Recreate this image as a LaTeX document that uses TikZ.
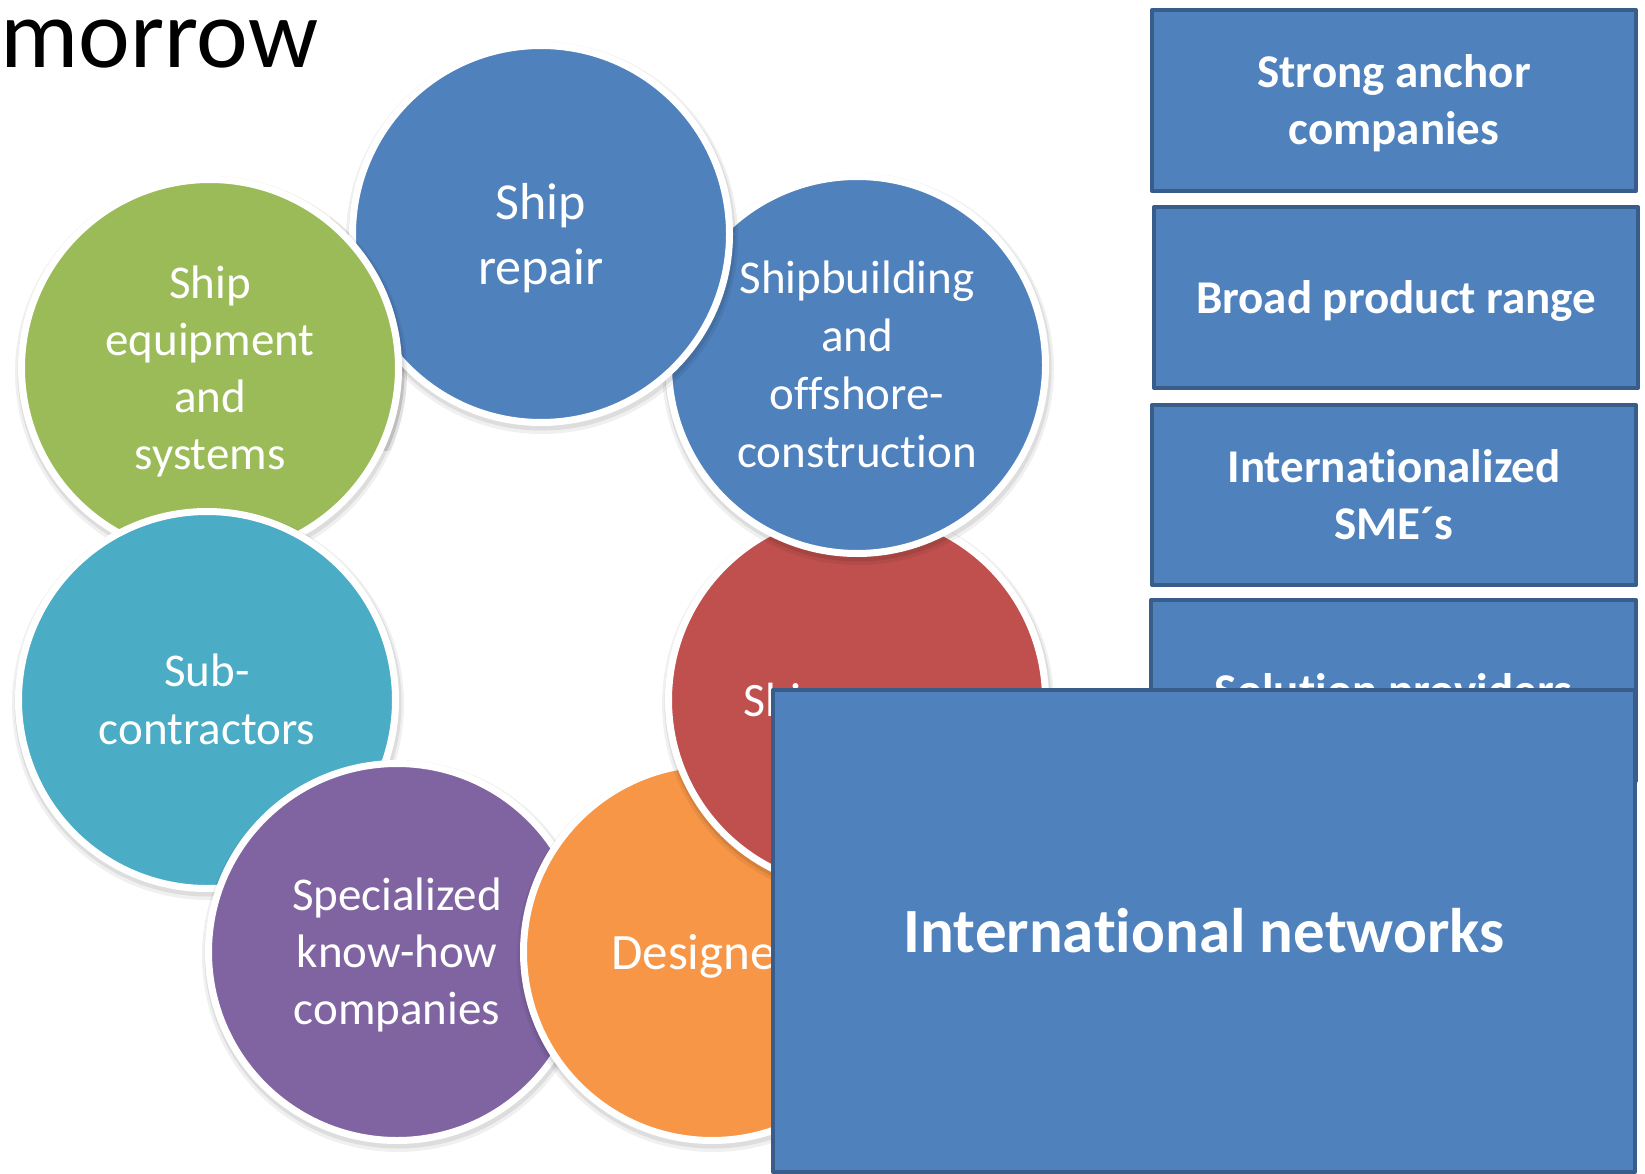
\documentclass[tikz,border=0pt]{standalone}
\usepackage{fontspec}
\setmainfont{Carlito}[RawFeature={-liga;-clig;-dlig}]
\definecolor{cblue}{HTML}{4F81BD}
\definecolor{cborder}{HTML}{385D8A}
\definecolor{cgreen}{HTML}{9BBB59}
\definecolor{cteal}{HTML}{4BACC6}
\definecolor{cpurple}{HTML}{8064A2}
\definecolor{corange}{HTML}{F79646}
\definecolor{cred}{HTML}{C0504D}
\newcommand\firstln{\rule{0pt}{0.95em}}
\newcommand\lastln{\rule[-0.27em]{0pt}{0pt}}
\newcommand\brk{\kern0pt}
\tikzset{
  ringnode/.style={circle, draw=white, line width=7pt, minimum size=377pt, inner sep=0pt,
    text=white, align=center},
  boxnode/.style={draw=cborder, line width=4pt, fill=cblue, text=white, align=center,
    line join=round, inner sep=0pt, font=\bfseries\fontsize{47}{57}\selectfont},
}
\newcommand\ringshadow[2]{%
  \fill[black,opacity=0.06] (#1+1,#2+4) circle (196);
  \fill[black,opacity=0.08] (#1+1,#2+3) circle (193.5);
}
\newcommand\mycirc[6]{%
  \ringshadow{#2}{#3}
  \node[ringnode, fill=#4, font={#5}] (#1) at (#2,#3) {\firstln #6\lastln};
}
\begin{document}
\begin{tikzpicture}[x=1pt,y=-1pt]
\useasboundingbox (0,0) rectangle (1645,1174);
\fill[white] (0,0) rectangle (1645,1174);

\node[anchor=base west, inner sep=0pt, font=\fontsize{98}{108}\selectfont] (title) at (0,68) {morrow};

% ring of circles
\mycirc{equip}{210}{368}{cgreen}{\fontsize{47}{57}\selectfont}{Ship\\equipment\\and\\systems}
\mycirc{sub}{207}{700}{cteal}{\fontsize{47}{58}\selectfont}{Sub-\\contractors}
\mycirc{spec}{397}{952}{cpurple}{\fontsize{47}{57}\selectfont}{Specialized\\know-how\\companies}
\mycirc{design}{712}{952}{corange}{\fontsize{51}{60}\selectfont}{Designers}
\mycirc{owners}{857}{700}{cred}{\fontsize{48}{58}\selectfont}{Shipowners}
\mycirc{build}{857}{365}{cblue}{\fontsize{47}{58}\selectfont}{Shipbuilding\\and\\of\brk fshore-\\construc\brk tion}
\mycirc{repair}{541}{234}{cblue}{\fontsize{52}{65}\selectfont}{Ship\\repair}

% green over ship repair (closing the cycle)
\begin{scope}
  \clip (330,100) rectangle (430,450);
  \ringshadow{210}{368}
  \fill[cgreen] (210,368) circle (188.5);
  \draw[white,line width=7pt] (210,368) circle (188.5);
\end{scope}

% boxes
\node[boxnode, minimum width=484pt, minimum height=181pt] (anchor) at (1394,100.5) {\firstln Strong anchor\\companies\lastln};
\node[boxnode, minimum width=484pt, minimum height=181pt] (range) at (1396,297.5) {\firstln Broad product range\lastln};
\node[boxnode, minimum width=484pt, minimum height=180pt] (sme) at (1394,495) {\firstln Interna\brk tionalized\\SME´s\lastln};
\node[boxnode, minimum width=485pt, minimum height=181pt] (solution) at (1393.5,690.5) {\firstln Solu\brk tion providers\lastln};

\node[boxnode, minimum width=862pt, minimum height=482pt, font=\bfseries\fontsize{63}{76}\selectfont] (networks) at (1204,931) {\firstln Interna\brk tional networks\lastln};
\end{tikzpicture}
\end{document}
